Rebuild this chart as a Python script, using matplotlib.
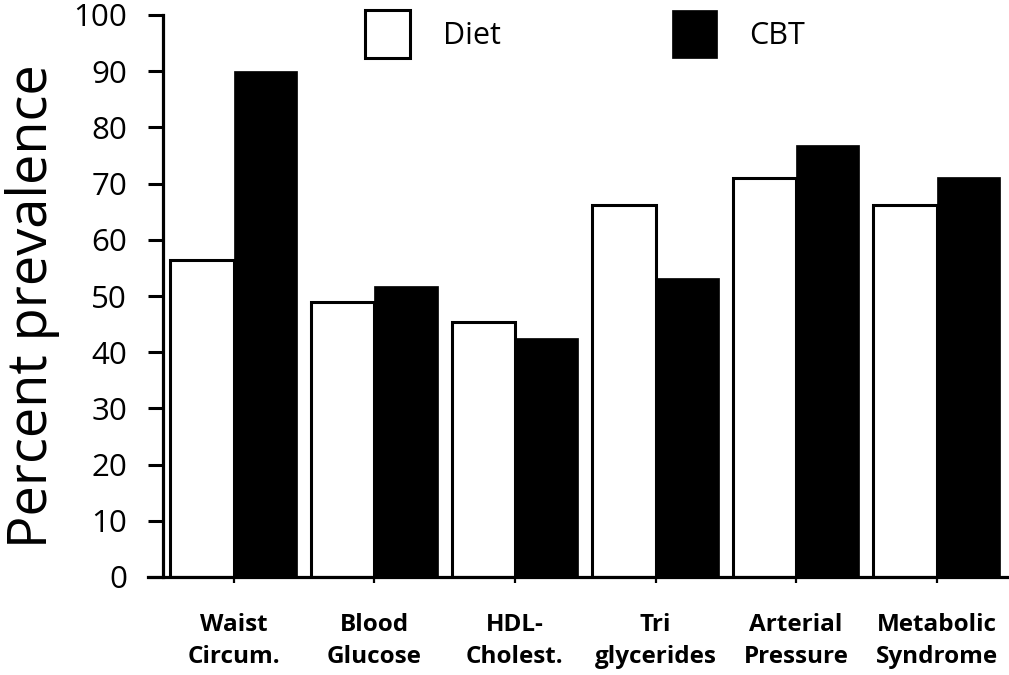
import matplotlib
matplotlib.use("Agg")
import matplotlib.pyplot as plt
import numpy as np

categories = ["Waist\nCircum.", "Blood\nGlucose", "HDL-\nCholest.", "Tri\nglycerides",
              "Arterial\nPressure", "Metabolic\nSyndrome"]
diet = [56.4, 49.0, 45.4, 66.2, 71.0, 66.2]
cbt = [90.0, 51.8, 42.6, 53.2, 76.9, 71.2]
yticks = [0, 10, 20, 30, 40, 50, 60, 70, 80, 90, 100]

W, H = 1009, 675
fig = plt.figure(figsize=(W / 100, H / 100), dpi=100)
ax_left, ax_right, ax_bottom, ax_top = 148, 1008, 577, 15
ax = fig.add_axes([ax_left / W, 1 - ax_bottom / H, (ax_right - ax_left) / W, (ax_bottom - ax_top) / H])

x = np.arange(len(categories))
w = 0.45
ax.bar(x - w, diet, width=w, align="edge", facecolor="white", edgecolor="black",
       linewidth=2.2, label="Diet", zorder=2)
ax.bar(x, cbt, width=w, align="edge", facecolor="black", edgecolor="black",
       linewidth=0.5, label="CBT", zorder=3)

ax.set_xlim(-0.6095, 5.507)
ax.set_ylim(0, 100)

for s in ["top", "right"]:
    ax.spines[s].set_visible(False)
ax.spines["left"].set_position(("axes", 15 / (ax_right - ax_left)))
ax.spines["left"].set_linewidth(2.3)
ax.spines["bottom"].set_linewidth(2.3)
ax.spines["bottom"].set_zorder(4)

ax.set_yticks(yticks)
ax.set_yticklabels([str(v) for v in yticks], fontsize=22.5, family="Open Sans")
ax.tick_params(axis="y", direction="out", length=10.8, width=2.2, pad=15)
ax.set_xticks(x)
ax.set_xticklabels(categories, fontsize=17.5, fontweight="bold", family="Open Sans", linespacing=1.45)
ax.tick_params(axis="x", direction="out", length=4, width=1.6, pad=22)

ax.set_ylabel("Percent prevalence", fontsize=39, family="Open Sans")
ax.yaxis.set_label_coords((60 - ax_left) / (ax_right - ax_left), 0.482)

fig.legend(loc="center", bbox_to_anchor=(585 / W, 1 - 34 / H), ncol=2, frameon=False,
           prop={"family": "Open Sans", "size": 22}, handlelength=1.5, handleheight=2.0,
           handletextpad=1.05, columnspacing=5.6)

fig.savefig("out.png", dpi=100)
